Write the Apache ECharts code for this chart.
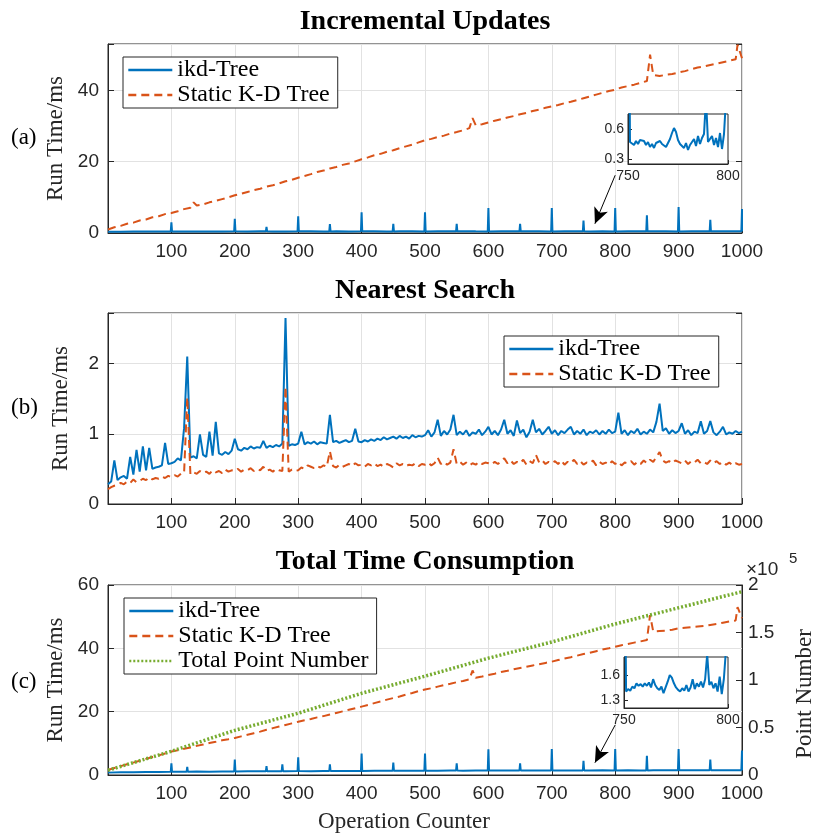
<!DOCTYPE html>
<html><head><meta charset="utf-8">
<script src="https://cdn.jsdelivr.net/npm/echarts@6/dist/echarts.min.js"></script>
<style>html,body{margin:0;padding:0;background:#fff}#c{width:813px;height:839px}</style>
</head><body><div id="c"></div>
<script>
// ---------- tick labels ----------
const xTickLabels = [100,200,300,400,500,600,700,800,900,1000];
const yTicksA = [0,20,40];
const yTicksB = [0,1,2];
const yTicksC = [0,20,40,60];
const yTicksC2 = [0,50000,100000,150000,200000];
const insetATicks = [0.3,0.6];
const insetCTicks = [1.3,1.6];
const insetXTicks = [750,800];

// ---------- (a) Incremental Updates ----------
// ikd-Tree baseline sampled every 20 operations (x = 0..1000)
const aIkdBase = [0.35,0.38,0.41,0.39,0.43,0.40,0.44,0.42,0.45,0.43,
                  0.46,0.44,0.47,0.45,0.43,0.46,0.48,0.44,0.47,0.45,
                  0.48,0.46,0.44,0.47,0.49,0.45,0.48,0.46,0.50,0.47,
                  0.45,0.48,0.46,0.49,0.47,0.45,0.48,0.46,0.44,0.47,
                  0.45,0.48,0.46,0.49,0.47,0.45,0.48,0.46,0.49,0.47,
                  0.46];
const aIkdSpikeX = [100,150,200,250,300,350,400,450,500,550,600,650,700,750,800,850,900,950,1000];
const aIkdSpikeY = [3.0,0.9,4.0,1.7,4.7,2.5,5.8,2.6,5.8,2.6,7.0,2.6,7.0,3.5,7.0,5.0,7.3,3.7,6.7];
// Static K-D tree sampled every 10 operations
const aKdY = [1.0,1.6,2.0,2.6,2.9,3.5,3.8,4.4,4.7,5.3,
              5.6,6.1,6.7,7.1,7.7,8.0,8.6,9.0,9.5,10.0,
              10.6,11.0,11.5,12.0,12.4,13.0,13.4,13.9,14.5,14.9,
              15.5,16.0,16.5,17.1,17.5,18.1,18.5,19.1,19.5,20.1,
              20.7,21.2,21.8,22.2,22.8,23.2,23.8,24.3,24.8,25.4,
              26.0,26.4,26.9,27.3,27.9,28.3,28.8,29.4,30.2,30.5,
              31.0,31.5,31.9,32.4,32.8,33.3,33.7,34.2,34.6,35.1,
              35.5,35.9,36.4,36.8,37.3,37.8,38.3,38.8,39.3,39.8,
              40.2,40.8,41.2,41.6,42.1,42.6,44.3,44.0,44.4,44.6,
              45.0,45.4,45.9,46.4,46.7,47.1,47.5,47.9,48.3,48.7,
              49.0];
const aKdSpikeX = [135,575,855,993];
const aKdSpikeY = [8.6,32.2,50.0,52.8];

// ---------- (b) Nearest Search (every 5 operations) ----------
const bIkdY = [0.28,0.32,0.62,0.34,0.38,0.40,0.36,0.67,0.42,0.77,0.46,0.82,0.48,0.80,0.50,0.52,0.53,0.55,0.87,0.57,
               0.58,0.60,0.65,0.62,1.08,2.10,0.66,0.68,0.65,0.99,0.70,0.67,1.03,0.69,1.17,0.72,0.70,0.74,0.71,0.76,
               0.93,0.78,0.76,0.80,0.78,0.82,0.79,0.81,0.80,0.90,0.80,0.83,0.81,0.84,0.82,0.86,2.65,0.83,0.85,0.84,
               0.86,1.03,0.85,0.88,0.86,0.89,0.85,0.88,0.87,0.86,1.27,0.88,0.90,0.87,0.89,0.91,0.88,0.90,1.07,0.89,
               0.88,0.91,0.89,0.92,0.90,0.93,0.91,0.95,0.92,0.94,0.96,0.93,0.97,0.94,0.96,0.93,0.98,0.95,0.97,0.96,
               0.98,1.05,0.96,1.02,1.20,0.97,1.04,0.99,1.06,1.27,0.98,1.03,0.99,1.05,0.97,1.02,1.00,1.06,0.98,1.03,
               1.10,0.99,1.04,0.98,1.06,1.20,1.00,1.05,0.97,1.19,1.01,1.06,0.95,1.03,1.20,1.02,1.07,0.99,1.04,1.10,
               1.00,1.05,0.98,1.04,1.01,1.06,1.10,0.99,1.04,1.00,1.06,0.98,1.03,1.01,1.05,0.99,1.04,1.00,1.06,1.01,
               1.03,1.30,1.00,1.05,0.98,1.04,1.01,1.07,0.99,1.03,1.00,1.06,1.02,1.17,1.43,1.04,1.08,1.00,1.05,1.01,
               1.04,1.15,1.00,1.05,0.98,1.03,1.01,1.18,1.00,1.04,1.18,1.02,0.98,1.03,1.10,0.99,1.02,1.00,1.04,1.01,1.03];
const bKdY = [0.21,0.24,0.26,0.27,0.30,0.28,0.32,0.30,0.35,0.31,0.33,0.36,0.34,0.38,0.35,0.37,0.36,0.39,0.37,0.40,
              0.38,0.41,0.39,0.43,0.44,1.52,0.42,0.45,0.43,0.47,0.44,0.46,0.43,0.48,0.45,0.47,0.44,0.49,0.46,0.48,
              0.47,0.50,0.46,0.49,0.48,0.51,0.47,0.50,0.48,0.53,0.47,0.49,0.46,0.50,0.48,0.47,1.67,0.46,0.49,0.47,
              0.48,0.52,0.50,0.55,0.53,0.51,0.54,0.52,0.55,0.53,0.75,0.54,0.52,0.56,0.53,0.55,0.57,0.54,0.58,0.55,
              0.56,0.53,0.57,0.55,0.58,0.54,0.56,0.53,0.57,0.55,0.52,0.58,0.55,0.57,0.54,0.56,0.55,0.58,0.54,0.57,
              0.56,0.59,0.55,0.58,0.66,0.57,0.60,0.56,0.59,0.78,0.57,0.60,0.56,0.59,0.55,0.58,0.56,0.60,0.57,0.59,
              0.58,0.56,0.60,0.57,0.61,0.65,0.58,0.62,0.57,0.60,0.58,0.63,0.56,0.61,0.58,0.70,0.59,0.62,0.57,0.60,
              0.58,0.61,0.57,0.62,0.56,0.60,0.58,0.63,0.57,0.61,0.56,0.59,0.58,0.62,0.55,0.60,0.57,0.59,0.56,0.61,
              0.57,0.60,0.55,0.59,0.58,0.61,0.56,0.60,0.57,0.62,0.58,0.63,0.60,0.67,0.74,0.62,0.59,0.61,0.58,0.62,
              0.60,0.58,0.62,0.57,0.61,0.59,0.63,0.58,0.60,0.57,0.62,0.58,0.61,0.57,0.60,0.56,0.59,0.55,0.58,0.56,0.57];

// ---------- (c) Total Time Consumption ----------
const cIkdBase = [0.75,0.84,0.87,0.93,0.95,1.01,1.02,1.07,1.06,1.11,
                  1.12,1.16,1.15,1.20,1.21,1.23,1.22,1.26,1.27,1.29,
                  1.30,1.32,1.31,1.35,1.34,1.37,1.36,1.39,1.38,1.41,
                  1.40,1.43,1.42,1.41,1.45,1.44,1.46,1.45,1.44,1.47,
                  1.46,1.48,1.46,1.49,1.47,1.50,1.48,1.51,1.49,1.52,
                  1.51];
const cIkdSpikeX = [100,125,200,250,275,300,350,400,450,500,550,600,650,700,750,800,850,900,950,1000];
const cIkdSpikeY = [3.7,2.6,4.9,2.8,3.4,5.6,3.4,6.8,3.9,6.8,3.7,8.1,3.7,8.2,4.5,8.2,6.1,8.2,4.9,7.7];
const cKdY = [1.6,2.2,2.8,3.4,3.9,4.5,5.1,5.7,6.2,6.8,
              7.4,7.8,8.3,8.7,9.2,9.6,10.1,10.5,11.0,11.3,
              11.7,12.2,12.7,13.2,13.7,14.3,14.8,15.3,15.8,16.3,
              16.8,17.3,17.7,18.2,18.6,19.1,19.6,20.1,20.6,21.1,
              21.6,22.1,22.7,23.2,23.8,24.3,24.8,25.4,25.9,26.5,
              27.0,27.4,27.9,28.4,28.8,29.3,29.7,30.2,30.7,31.1,
              31.6,32.0,32.5,32.9,33.4,33.8,34.2,34.6,35.0,35.4,
              35.8,36.3,36.8,37.2,37.7,38.2,38.6,39.1,39.6,40.0,
              40.5,41.0,41.4,41.8,42.2,42.6,45.3,45.5,45.6,45.9,
              46.3,46.5,46.7,46.9,47.1,47.4,47.7,48.1,48.5,48.8,
              49.5];
const cKdSpikeX = [575,855,993];
const cKdSpikeY = [33.0,50.5,53.0];
const cPointsX = [0,100,200,300,400,500,600,700,800,900,1000];
const cPointsY = [5000,25000,47000,65000,86000,104000,123000,140000,159000,176000,193000];

// ---------- insets (operations 750..800) ----------
const insetAY = [3.4,
  0.47,0.46,0.44,0.48,0.45,0.49,0.47,0.48,0.44,0.47,
  0.42,0.45,0.41,0.46,0.44,0.48,0.45,0.47,0.42,0.46,
  0.50,0.56,0.61,0.57,0.49,0.45,0.43,0.41,0.46,0.39,
  0.44,0.42,0.50,0.43,0.53,0.45,0.51,0.55,0.90,0.47,
  0.49,0.53,0.44,0.51,0.42,0.56,0.40,0.55,0.90,7.0];
const insetCY = [4.5,
  1.40,1.43,1.41,1.46,1.44,1.50,1.47,1.49,1.46,1.50,
  1.47,1.51,1.45,1.55,1.48,1.44,1.42,1.46,1.38,1.45,
  1.52,1.60,1.57,1.50,1.45,1.42,1.40,1.44,1.41,1.48,
  1.40,1.45,1.55,1.43,1.50,1.46,1.52,1.45,1.55,1.85,
  1.48,1.52,1.44,1.50,1.40,1.58,1.37,1.55,1.90,8.2];

// ---------- helpers ----------
const seq = (n, start, step) => Array.from({length: n}, (_, i) => start + i * step);
function withPeaks(xs, ys, px, py) {
  const pts = xs.map((x, i) => [x, ys[i]]);
  px.forEach((x, k) => pts.push([x, py[k]]));
  return pts.sort((p, q) => p[0] - q[0]);
}
function withSpikes(xs, ys, px, py) {
  const near = x => { let best = 0; xs.forEach((v, i) => { if (Math.abs(v - x) < Math.abs(xs[best] - x)) best = i; }); return ys[best]; };
  const pts = xs.map((x, i) => [x, ys[i]]).filter(p => !px.some(s => Math.abs(s - p[0]) <= 1));
  px.forEach((x, k) => { const b = near(x); pts.push([x - 1, b], [x, py[k]], [x + 1, b]); });
  return pts.sort((p, q) => p[0] - q[0]);
}
const zip = (xs, ys) => xs.map((x, i) => [x, ys[i]]);

const BLUE = '#0072BD', ORANGE = '#D95319', GREEN = '#77AC30', AX = '#262626';
const SERIF = '"Liberation Serif", "Times New Roman", serif';
const SANS = '"Liberation Sans", Arial, sans-serif';

const L = 108, W = 634;
const grids = [
  {left: L, top: 44, width: W, height: 189},
  {left: L, top: 313, width: W, height: 191},
  {left: L, top: 585, width: W, height: 190},
  {left: 628, top: 114, width: 100, height: 50},
  {left: 624, top: 657, width: 104, height: 51}
].map((g, i) => Object.assign({show: true, borderColor: AX, borderWidth: 1,
  backgroundColor: i >= 3 ? '#fff' : 'transparent', z: i >= 3 ? 3 : 0, containLabel: false}, g));

function mainX(gi) {
  return {type: 'value', gridIndex: gi, min: 0, max: 1000, interval: 100,
    axisLine: {show: true, lineStyle: {color: AX, width: 1}},
    axisTick: {inside: true, length: 6, lineStyle: {color: AX}},
    splitLine: {show: true, lineStyle: {color: '#e2e2e2', width: 1}},
    axisLabel: {fontFamily: SANS, fontSize: 19, color: AX, margin: 9,
      formatter: v => xTickLabels.includes(v) ? String(v) : ''}};
}
function mainY(gi, max, interval, ticks, name) {
  return {type: 'value', gridIndex: gi, min: 0, max, interval,
    name, nameLocation: 'middle', nameGap: 36,
    nameTextStyle: {fontFamily: SERIF, fontSize: 23, color: AX},
    axisLine: {show: true, lineStyle: {color: AX}},
    axisTick: {show: true, inside: true, length: 6, lineStyle: {color: AX}},
    splitLine: {show: true, lineStyle: {color: '#e2e2e2'}},
    axisLabel: {fontFamily: SANS, fontSize: 19, color: AX, margin: 9,
      formatter: v => ticks.includes(v) ? String(v) : ''}};
}
function mirrorY(gi, max, interval) {
  return {type: 'value', gridIndex: gi, min: 0, max, interval, position: 'right',
    axisLine: {show: false}, axisLabel: {show: false}, splitLine: {show: false},
    axisTick: {show: true, inside: true, length: 6, lineStyle: {color: AX}}};
}
function insetX(gi) {
  return {type: 'value', gridIndex: gi, min: 750, max: 800, interval: 50, z: 4,
    axisLine: {show: true, lineStyle: {color: AX}},
    axisTick: {inside: true, length: 4, lineStyle: {color: AX}},
    splitLine: {show: false},
    axisLabel: {fontFamily: SANS, fontSize: 14, color: AX, margin: 5,
      formatter: v => insetXTicks.includes(v) ? String(v) : ''}};
}
function insetY(gi, min, max, ticks) {
  return {type: 'value', gridIndex: gi, min, max, z: 4,
    axisLine: {show: true, lineStyle: {color: AX}},
    axisTick: {inside: true, length: 4, lineStyle: {color: AX}, customValues: ticks},
    splitLine: {show: false},
    axisLabel: {fontFamily: SANS, fontSize: 14, color: AX, margin: 4, customValues: ticks,
      formatter: v => String(v)}};
}

const lineBase = {type: 'line', showSymbol: false, symbol: 'none', animation: false, silent: true};
const ikdStyle = {color: BLUE, width: 2};
const kdStyle = {color: ORANGE, width: 2, type: [8, 5]};
const arrow = (x0, y0, x1, y1) => ({silent: true, symbol: ['none', 'arrow'], symbolSize: [11, 16],
  label: {show: false}, lineStyle: {color: '#000', width: 1, type: 'solid'},
  data: [[{coord: [x0, y0]}, {coord: [x1, y1]}]], animation: false});

const xA20 = seq(51, 0, 20), xA10 = seq(101, 0, 10), xB5 = seq(201, 0, 5), xIn = seq(51, 750, 1);

const legendBase = {orient: 'vertical', itemWidth: 44, itemHeight: 14, itemGap: 1,
  itemStyle: {opacity: 0},
  lineStyle: {width: 2.6},
  textStyle: {fontFamily: SERIF, fontSize: 24, color: '#000', lineHeight: 24},
  borderColor: AX, borderWidth: 1, backgroundColor: '#fff', padding: [1, 8, 1, 4], selectedMode: false};

const titleFont = 'bold 28px ' + SERIF;
const option = {
  backgroundColor: '#fff',
  animation: false,
  grid: grids,
  xAxis: [mainX(0), mainX(1), mainX(2), insetX(3), insetX(4)],
  yAxis: [
    mainY(0, 53, 20, yTicksA, 'Run Time/ms'),
    mirrorY(0, 53, 20),
    mainY(1, 2.72, 1, yTicksB, 'Run Time/ms'),
    mirrorY(1, 2.72, 1),
    mainY(2, 60, 20, yTicksC, 'Run Time/ms'),
    {type: 'value', gridIndex: 2, min: 0, max: 200000, interval: 50000, position: 'right',
      axisLine: {show: true, lineStyle: {color: AX}},
      axisTick: {show: true, inside: true, length: 6, lineStyle: {color: AX}},
      splitLine: {show: false},
      axisLabel: {fontFamily: SANS, fontSize: 19, color: AX, margin: 6,
        formatter: v => yTicksC2.includes(v) ? String(v / 100000) : ''}},
    insetY(3, 0.25, 0.75, insetATicks),
    insetY(4, 1.2, 1.82, insetCTicks)
  ],
  legend: [
    Object.assign({}, legendBase, {left: 123, top: 57, data: ['ikd-Tree', 'Static K-D Tree']}),
    Object.assign({}, legendBase, {left: 504, top: 336, data: ['ikd-Tree', 'Static K-D Tree']}),
    Object.assign({}, legendBase, {left: 124, top: 598, data: ['ikd-Tree', 'Static K-D Tree', 'Total Point Number']})
  ],
  series: [
    Object.assign({}, lineBase, {name: 'ikd-Tree', xAxisIndex: 0, yAxisIndex: 0, z: 2,
      data: withSpikes(xA20, aIkdBase, aIkdSpikeX, aIkdSpikeY), lineStyle: ikdStyle, itemStyle: {color: BLUE},
      markLine: arrow(800, 16.2, 768, 2.6)}),
    Object.assign({}, lineBase, {name: 'Static K-D Tree', xAxisIndex: 0, yAxisIndex: 0, z: 2,
      data: withPeaks(xA10, aKdY, aKdSpikeX, aKdSpikeY), lineStyle: kdStyle, itemStyle: {color: ORANGE}}),
    Object.assign({}, lineBase, {name: 'ikd-Tree', xAxisIndex: 1, yAxisIndex: 2, z: 2,
      data: zip(xB5, bIkdY), lineStyle: ikdStyle, itemStyle: {color: BLUE}}),
    Object.assign({}, lineBase, {name: 'Static K-D Tree', xAxisIndex: 1, yAxisIndex: 2, z: 2,
      data: zip(xB5, bKdY), lineStyle: kdStyle, itemStyle: {color: ORANGE}}),
    Object.assign({}, lineBase, {name: 'ikd-Tree', xAxisIndex: 2, yAxisIndex: 4, z: 2,
      data: withSpikes(xA20, cIkdBase, cIkdSpikeX, cIkdSpikeY), lineStyle: ikdStyle, itemStyle: {color: BLUE},
      markLine: arrow(800, 15.8, 768, 3.9)}),
    Object.assign({}, lineBase, {name: 'Static K-D Tree', xAxisIndex: 2, yAxisIndex: 4, z: 2,
      data: withPeaks(xA10, cKdY, cKdSpikeX, cKdSpikeY), lineStyle: kdStyle, itemStyle: {color: ORANGE}}),
    Object.assign({}, lineBase, {name: 'Total Point Number', xAxisIndex: 2, yAxisIndex: 5, z: 2,
      data: zip(cPointsX, cPointsY), lineStyle: {color: GREEN, width: 3.5, type: [2, 2]}, itemStyle: {color: GREEN}}),
    Object.assign({}, lineBase, {name: 'insetA', xAxisIndex: 3, yAxisIndex: 6, z: 5,
      data: zip(xIn, insetAY), lineStyle: ikdStyle, itemStyle: {color: BLUE}}),
    Object.assign({}, lineBase, {name: 'insetC', xAxisIndex: 4, yAxisIndex: 7, z: 5,
      data: zip(xIn, insetCY), lineStyle: ikdStyle, itemStyle: {color: BLUE}})
  ],
  graphic: [
    {type: 'text', x: 425, y: 22, style: {text: 'Incremental Updates', font: titleFont, fill: '#000', textAlign: 'center', textVerticalAlign: 'middle'}},
    {type: 'text', x: 425, y: 291, style: {text: 'Nearest Search', font: titleFont, fill: '#000', textAlign: 'center', textVerticalAlign: 'middle'}},
    {type: 'text', x: 425, y: 562, style: {text: 'Total Time Consumption', font: titleFont, fill: '#000', textAlign: 'center', textVerticalAlign: 'middle'}},
    {type: 'text', x: 11, y: 138, style: {text: '(a)', font: '23px ' + SERIF, fill: '#000', textVerticalAlign: 'middle'}},
    {type: 'text', x: 11, y: 408, style: {text: '(b)', font: '23px ' + SERIF, fill: '#000', textVerticalAlign: 'middle'}},
    {type: 'text', x: 11, y: 682, style: {text: '(c)', font: '23px ' + SERIF, fill: '#000', textVerticalAlign: 'middle'}},
    {type: 'text', x: 404, y: 822, style: {text: 'Operation Counter', font: '23px ' + SERIF, fill: AX, textAlign: 'center', textVerticalAlign: 'middle'}},
    {type: 'text', x: 805, y: 694, rotation: Math.PI / 2, style: {text: 'Point Number', font: '23px ' + SERIF, fill: AX, textAlign: 'center', textVerticalAlign: 'middle'}},
    {type: 'text', x: 746, y: 570, style: {text: '×10', font: '19px ' + SANS, fill: AX, textVerticalAlign: 'middle'}},
    {type: 'text', x: 789, y: 559, style: {text: '5', font: '15px ' + SANS, fill: AX, textVerticalAlign: 'middle'}}
  ]
};

const chart = echarts.init(document.getElementById('c'), null, {renderer: 'canvas'});
chart.setOption(option);
</script>
</body></html>
